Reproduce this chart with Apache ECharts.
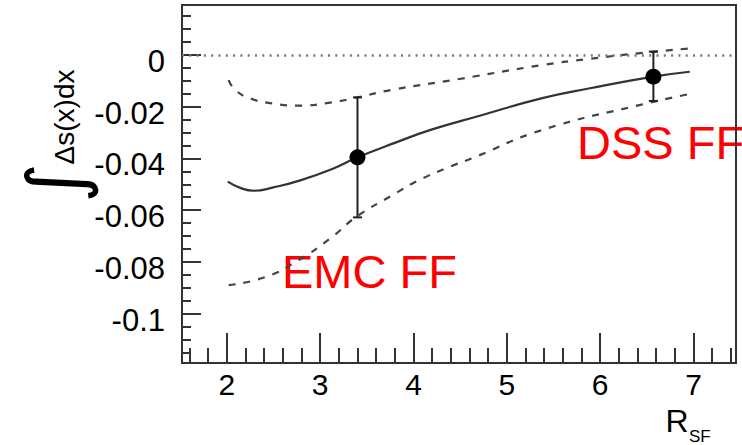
<!DOCTYPE html>
<html>
<head>
<meta charset="utf-8">
<script src="https://cdn.jsdelivr.net/npm/echarts@6/dist/echarts.min.js"></script>
<style>
html,body{margin:0;padding:0;background:#fff;}
#c{width:742px;height:445px;}
</style>
</head>
<body>
<div id="c"></div>
<script>
// ---- data ----
const xMajorTicks = [2, 3, 4, 5, 6, 7];
const xMinorTicks = [1.6, 1.8, 2.2, 2.4, 2.6, 2.8, 3.2, 3.4, 3.6, 3.8, 4.2, 4.4, 4.6, 4.8,
  5.2, 5.4, 5.6, 5.8, 6.2, 6.4, 6.6, 6.8, 7.2, 7.4];
const yMajorTicks = [0, -0.02, -0.04, -0.06, -0.08, -0.1];
const yMinorTicks = [0.015, 0.01, 0.005, -0.005, -0.01, -0.015, -0.025, -0.03, -0.035,
  -0.045, -0.05, -0.055, -0.065, -0.07, -0.075, -0.085, -0.09, -0.095, -0.105, -0.11, -0.115];

// central curve
const centralX = [2.01, 2.15, 2.29, 2.5, 2.77, 3.13, 3.40, 3.8, 4.2, 4.71, 5.38, 5.89, 6.57, 6.96];
const centralY = [-0.049, -0.0515, -0.0525, -0.0512, -0.0487, -0.0441, -0.0396, -0.034, -0.0288, -0.0235, -0.0167, -0.0129, -0.0084, -0.0065];
// upper dashed band
const upperX = [2.02, 2.09, 2.25, 2.5, 2.75, 3.13, 3.40, 3.77, 4.49, 5.38, 5.89, 6.43, 6.96];
const upperY = [-0.0097, -0.0135, -0.0168, -0.0188, -0.0196, -0.0183, -0.0164, -0.0135, -0.0093, -0.0039, -0.0015, 0.0007, 0.0025];
// lower dashed band
const lowerX = [2.02, 2.42, 2.77, 3.13, 3.38, 3.78, 4.06, 4.35, 4.65, 5.38, 6.43, 6.96];
const lowerY = [-0.089, -0.0858, -0.0793, -0.0703, -0.0628, -0.0541, -0.0484, -0.0438, -0.0396, -0.029, -0.0193, -0.0151];

// measured points (EMC FF, DSS FF)
const pointNames = ['EMC FF', 'DSS FF'];
const pointX = [3.40, 6.57];
const pointY = [-0.0396, -0.0084];
const pointLow = [-0.0628, -0.0178];
const pointHigh = [-0.0164, 0.0013];

const xRange = [1.52, 7.455];
const yRange = [-0.1191, 0.0193];

// ---- chart ----
const zip = (a, b) => a.map((v, i) => [v, b[i]]);
const FONT = '"Liberation Sans", Arial, Helvetica, sans-serif';
const AXC = '#333';

const chart = echarts.init(document.getElementById('c'), null, {renderer: 'svg'});

const baseX = {
  type: 'value', min: xRange[0], max: xRange[1], gridIndex: 0,
  splitLine: {show: false}
};
const baseY = {
  type: 'value', min: yRange[0], max: yRange[1], gridIndex: 0,
  splitLine: {show: false}
};

const option = {
  animation: false,
  backgroundColor: '#fff',
  grid: {left: 182, right: 6, top: 5, bottom: 82, show: true,
    borderColor: AXC, borderWidth: 2, backgroundColor: 'transparent'},
  xAxis: [
    Object.assign({}, baseX, {
      position: 'bottom',
      axisLine: {show: true, onZero: false, lineStyle: {color: AXC, width: 2}},
      axisTick: {show: true, inside: true, length: 30, customValues: xMajorTicks,
        lineStyle: {color: AXC, width: 2}},
      axisLabel: {show: true, customValues: xMajorTicks, margin: 6,
        fontSize: 30, fontFamily: FONT, color: '#000'}
    }),
    Object.assign({}, baseX, {
      position: 'bottom',
      axisLine: {show: false, onZero: false},
      axisTick: {show: true, inside: true, length: 15, customValues: xMinorTicks,
        lineStyle: {color: AXC, width: 2}},
      axisLabel: {show: false}
    })
  ],
  yAxis: [
    Object.assign({}, baseY, {
      position: 'left',
      axisLine: {show: true, onZero: false, lineStyle: {color: AXC, width: 2}},
      axisTick: {show: true, inside: true, length: 19, customValues: yMajorTicks,
        lineStyle: {color: AXC, width: 2}},
      axisLabel: {show: true, customValues: yMajorTicks, margin: 17,
        fontSize: 31, fontFamily: FONT, color: '#000',
        verticalAlign: 'top', lineHeight: 13,
        formatter: v => String(+v.toFixed(3))}
    }),
    Object.assign({}, baseY, {
      position: 'left',
      axisLine: {show: false, onZero: false},
      axisTick: {show: true, inside: true, length: 9, customValues: yMinorTicks,
        lineStyle: {color: AXC, width: 2}},
      axisLabel: {show: false}
    })
  ],
  series: [
    {
      type: 'line', name: 'zero', data: [], silent: true,
      markLine: {
        symbol: ['none', 'none'], silent: true, label: {show: false},
        lineStyle: {color: '#777', width: 2.5, type: [2, 5.3]},
        data: [{yAxis: 0}]
      }
    },
    {
      type: 'line', name: 'central', data: zip(centralX, centralY),
      showSymbol: false, smooth: 0.5,
      lineStyle: {color: '#333', width: 2.2, type: 'solid'}, z: 3
    },
    {
      type: 'line', name: 'upper', data: zip(upperX, upperY),
      showSymbol: false, smooth: 0.5,
      lineStyle: {color: '#444', width: 2.2, type: [7, 8]}, z: 3
    },
    {
      type: 'line', name: 'lower', data: zip(lowerX, lowerY),
      showSymbol: false, smooth: 0.5,
      lineStyle: {color: '#444', width: 2.2, type: [7, 8]}, z: 3
    },
    {
      type: 'custom', name: 'errors',
      data: pointX.map((x, i) => [x, pointY[i], pointLow[i], pointHigh[i]]),
      encode: {x: 0, y: 1},
      z: 4,
      renderItem: function (params, api) {
        const x = api.value(0);
        const top = api.coord([x, api.value(3)]);
        const bot = api.coord([x, api.value(2)]);
        const cw = 4.5;
        const st = {stroke: '#222', lineWidth: 2};
        return {
          type: 'group',
          children: [
            {type: 'line', shape: {x1: top[0], y1: top[1], x2: bot[0], y2: bot[1]}, style: st},
            {type: 'line', shape: {x1: top[0] - cw, y1: top[1], x2: top[0] + cw, y2: top[1]}, style: st},
            {type: 'line', shape: {x1: bot[0] - cw, y1: bot[1], x2: bot[0] + cw, y2: bot[1]}, style: st}
          ]
        };
      }
    },
    {
      type: 'scatter', name: 'points', data: zip(pointX, pointY),
      symbol: 'circle', symbolSize: 16, itemStyle: {color: '#000', opacity: 1}, z: 5
    }
  ],
  graphic: [
    {type: 'text', x: 55, y: 183, rotation: Math.PI / 2,
      style: {text: '∫', fontSize: 77, fontFamily: 'DejaVu Sans', fill: '#000',
        align: 'center', verticalAlign: 'middle'}},
    {type: 'text', x: 64, y: 117, rotation: Math.PI / 2,
      style: {text: 'Δs(x)dx', fontSize: 28, fontFamily: FONT, fill: '#000',
        align: 'center', verticalAlign: 'middle'}},
    {type: 'text', z: -1, x: 282, y: 271,
      style: {text: pointNames[0], fontSize: 47, fontFamily: FONT, fill: '#ff0000',
        align: 'left', verticalAlign: 'middle'}},
    {type: 'text', z: -1, x: 577, y: 142,
      style: {text: pointNames[1], fontSize: 47, fontFamily: FONT, fill: '#ff0000',
        align: 'left', verticalAlign: 'middle'}},
    {type: 'text', x: 677, y: 421,
      style: {text: 'R', fontSize: 32, fontFamily: FONT, fill: '#000',
        align: 'center', verticalAlign: 'middle'}},
    {type: 'text', x: 689, y: 436,
      style: {text: 'SF', fontSize: 17, fontFamily: FONT, fill: '#000',
        align: 'left', verticalAlign: 'middle'}}
  ]
};
chart.setOption(option);
</script>
</body>
</html>
